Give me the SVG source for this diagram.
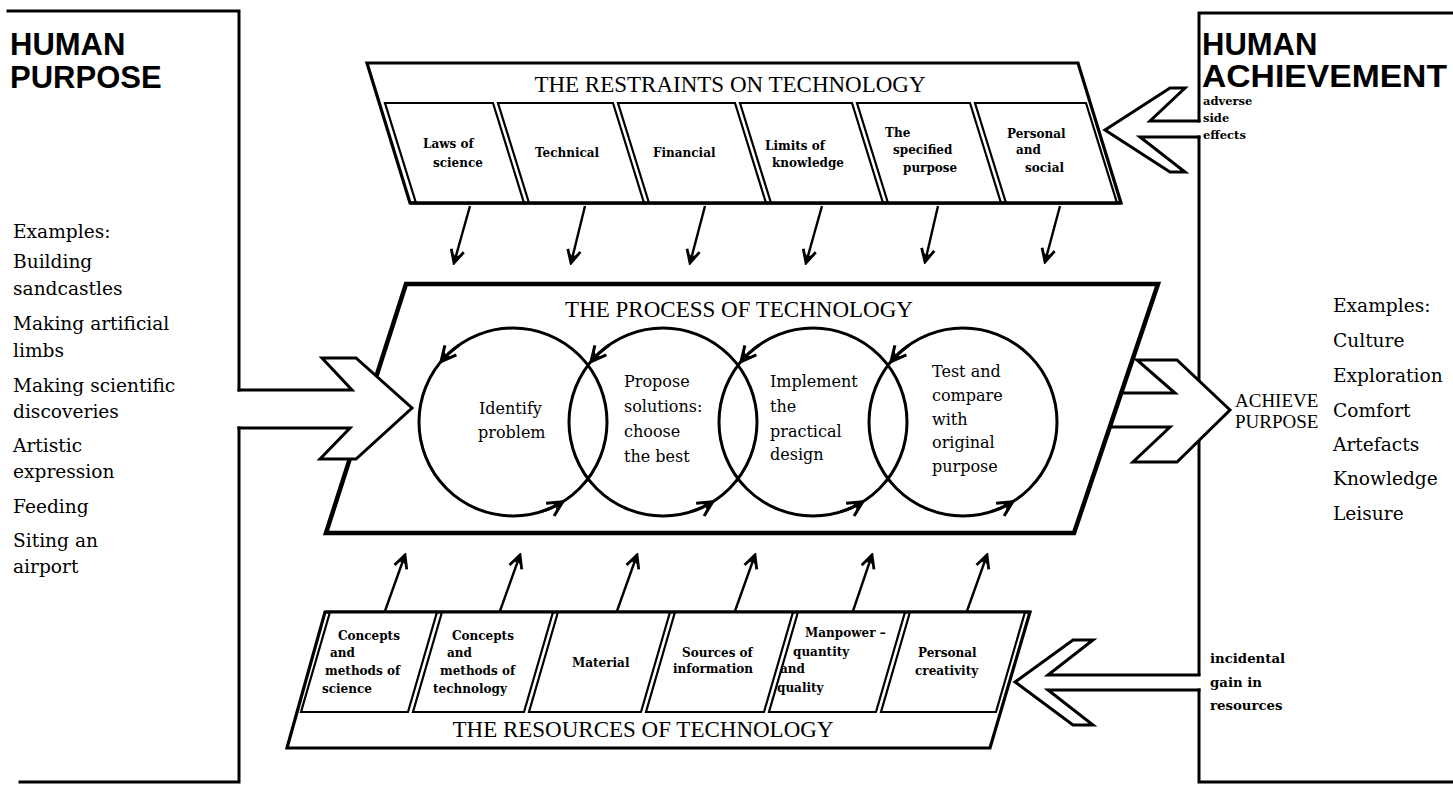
<svg xmlns="http://www.w3.org/2000/svg" width="1453" height="785" viewBox="0 0 1453 785">
  <defs>
    <marker id="head" viewBox="-18 -10 20 20" markerWidth="20" markerHeight="20" refX="0" refY="0" orient="auto" markerUnits="userSpaceOnUse">
      <path d="M-13,-6.5 L0,0 L-13,6.5" fill="none" stroke="#000" stroke-width="2.8" stroke-linejoin="miter"/>
      <path d="M0,0 L-9,-3.5 L-7,0 L-9,3.5 Z" fill="#000"/>
    </marker>
    <marker id="barb" viewBox="-20 -11 22 22" markerWidth="22" markerHeight="22" refX="0" refY="0" orient="auto" markerUnits="userSpaceOnUse">
      <path d="M-15,-7.5 L0,0 L-15,7.5" fill="none" stroke="#000" stroke-width="3" stroke-linejoin="miter"/>
      <path d="M0,0 L-10,-4 L-8,0 L-10,4 Z" fill="#000"/>
    </marker>
    <style>
      .ln{fill:none;stroke:#000;stroke-width:3;stroke-linejoin:miter;stroke-linecap:square}
      .frame{fill:#fff;stroke:#000;stroke-width:3.2;stroke-linejoin:miter}
      .proc{fill:#fff;stroke:#000;stroke-width:4.5;stroke-linejoin:miter}
      .cell{fill:#fff;stroke:#000;stroke-width:2.2;stroke-linejoin:miter}
      .ring{fill:none;stroke:#000;stroke-width:3}
      .cyc{fill:none;stroke:#000;stroke-width:3;marker-end:url(#barb)}
      .arr{fill:none;stroke:#000;stroke-width:2.4;marker-end:url(#head)}
      .cover{fill:#fff;stroke:none}
      text{fill:#000}
      .title{font-family:"Liberation Serif","Times New Roman",serif;font-size:23px}
      .lbl{font-family:"DejaVu Serif",serif;font-weight:bold;font-size:12px}
      .body{font-family:"DejaVu Serif",serif;font-size:16px}
      .list{font-family:"DejaVu Serif",serif;font-size:18.6px}
      .big{font-family:"Liberation Sans",Arial,sans-serif;font-weight:bold;font-size:31px}
      .note{font-family:"DejaVu Serif",serif;font-weight:bold;font-size:11.5px}
      .note2{font-family:"DejaVu Serif",serif;font-weight:bold;font-size:13.3px}
      .goal{font-family:"Liberation Serif","Times New Roman",serif;font-size:19px}
    </style>
  </defs>

  <rect width="1453" height="785" fill="#fff"/>

  <!-- left panel: human purpose -->
  <g id="human-purpose">
    <path class="ln" d="M8,11 H239 V390 M239,428 V782 H20"/>
    <text class="big" x="10" y="55">HUMAN</text>
    <text class="big" x="10" y="88">PURPOSE</text>
    <text class="list" x="13" y="238">Examples:</text>
    <text class="list" x="13" y="268">Building</text>
    <text class="list" x="13" y="295">sandcastles</text>
    <text class="list" x="13" y="330">Making artificial</text>
    <text class="list" x="13" y="357">limbs</text>
    <text class="list" x="13" y="392">Making scientific</text>
    <text class="list" x="13" y="418">discoveries</text>
    <text class="list" x="13" y="452">Artistic</text>
    <text class="list" x="13" y="478">expression</text>
    <text class="list" x="13" y="513">Feeding</text>
    <text class="list" x="13" y="547">Siting an</text>
    <text class="list" x="13" y="573">airport</text>
  </g>

  <!-- right panel: human achievement -->
  <g id="human-achievement">
    <path class="ln" d="M1453,13 H1199 V121 M1199,137 V674 M1199,690 V782 H1453"/>
    <text class="big" x="1202" y="55">HUMAN</text>
    <text class="big" x="1202" y="87" textLength="245" lengthAdjust="spacingAndGlyphs">ACHIEVEMENT</text>
    <text class="note" x="1203" y="105">adverse</text>
    <text class="note" x="1203" y="122">side</text>
    <text class="note" x="1203" y="139">effects</text>
    <text class="list" x="1333" y="312">Examples:</text>
    <text class="list" x="1333" y="347">Culture</text>
    <text class="list" x="1333" y="382">Exploration</text>
    <text class="list" x="1333" y="417">Comfort</text>
    <text class="list" x="1333" y="451">Artefacts</text>
    <text class="list" x="1333" y="485">Knowledge</text>
    <text class="list" x="1333" y="520">Leisure</text>
    <text class="note2" x="1210" y="663">incidental</text>
    <text class="note2" x="1210" y="687">gain in</text>
    <text class="note2" x="1210" y="710">resources</text>
  </g>

  <!-- restraints panel -->
  <g id="restraints">
    <polygon class="frame" points="367,63 1078,63 1121,203 410,203"/>
    <text class="title" x="730" y="92" text-anchor="middle">THE RESTRAINTS ON TECHNOLOGY</text>
    <polygon class="cell" points="385,103 493,103 524,203 416,203"/>
    <polygon class="cell" points="498,103 613,103 644,203 529,203"/>
    <polygon class="cell" points="618,103 735,103 766,203 649,203"/>
    <polygon class="cell" points="740,103 852,103 883,203 771,203"/>
    <polygon class="cell" points="857,103 970,103 1001,203 888,203"/>
    <polygon class="cell" points="975,103 1086,103 1117,203 1006,203"/>
    <line x1="410" y1="203" x2="1121" y2="203" stroke="#000" stroke-width="3.5"/>
    <text class="lbl" x="423" y="148">Laws of</text>
    <text class="lbl" x="433" y="167">science</text>
    <text class="lbl" x="535" y="157">Technical</text>
    <text class="lbl" x="653" y="157">Financial</text>
    <text class="lbl" x="765" y="150">Limits of</text>
    <text class="lbl" x="772" y="167">knowledge</text>
    <text class="lbl" x="885" y="137">The</text>
    <text class="lbl" x="893" y="154">specified</text>
    <text class="lbl" x="903" y="172">purpose</text>
    <text class="lbl" x="1007" y="138">Personal</text>
    <text class="lbl" x="1016" y="154">and</text>
    <text class="lbl" x="1025" y="172">social</text>
  </g>

  <!-- the process with its four overlapping stages -->
  <g id="process">
    <polygon class="proc" points="406,284 1158,284 1074,533 326,533"/>
    <text class="title" x="739" y="317" text-anchor="middle">THE PROCESS OF TECHNOLOGY</text>
    <circle class="ring" cx="513" cy="422" r="94"/>
    <circle class="ring" cx="663" cy="422" r="94"/>
    <circle class="ring" cx="813" cy="422" r="94"/>
    <circle class="ring" cx="963" cy="422" r="94"/>
    <!-- direction of travel round each stage -->
    <path class="cyc" d="M459.1,345 A94,94 0 0 0 441,361.6"/>
    <path class="cyc" d="M540.5,511.9 A94,94 0 0 0 562.8,501.7"/>
    <path class="cyc" d="M609.1,345 A94,94 0 0 0 591,361.6"/>
    <path class="cyc" d="M690.5,511.9 A94,94 0 0 0 712.8,501.7"/>
    <path class="cyc" d="M759.1,345 A94,94 0 0 0 741,361.6"/>
    <path class="cyc" d="M840.5,511.9 A94,94 0 0 0 862.8,501.7"/>
    <path class="cyc" d="M909.1,345 A94,94 0 0 0 891,361.6"/>
    <path class="cyc" d="M990.5,511.9 A94,94 0 0 0 1012.8,501.7"/>
    <text class="body" x="479" y="414">Identify</text>
    <text class="body" x="478" y="438">problem</text>
    <text class="body" x="624" y="387">Propose</text>
    <text class="body" x="624" y="412">solutions:</text>
    <text class="body" x="624" y="437">choose</text>
    <text class="body" x="624" y="462">the best</text>
    <text class="body" x="770" y="387">Implement</text>
    <text class="body" x="770" y="412">the</text>
    <text class="body" x="770" y="437">practical</text>
    <text class="body" x="770" y="460">design</text>
    <text class="body" x="932" y="377">Test and</text>
    <text class="body" x="932" y="401">compare</text>
    <text class="body" x="932" y="425">with</text>
    <text class="body" x="932" y="448">original</text>
    <text class="body" x="932" y="472">purpose</text>
  </g>

  <!-- resources panel -->
  <g id="resources">
    <polygon class="frame" points="325,612 1030,612 990,748 287,748"/>
    <polygon class="cell" points="330,612 437,612 408,712 301,712"/>
    <polygon class="cell" points="442,612 553,612 524,712 413,712"/>
    <polygon class="cell" points="558,612 670,612 641,712 529,712"/>
    <polygon class="cell" points="675,612 793,612 764,712 646,712"/>
    <polygon class="cell" points="798,612 905,612 876,712 769,712"/>
    <polygon class="cell" points="910,612 1025,612 996,712 881,712"/>
    <line x1="325" y1="612" x2="1030" y2="612" stroke="#000" stroke-width="3.2"/>
    <text class="title" x="643" y="737" text-anchor="middle">THE RESOURCES OF TECHNOLOGY</text>
    <text class="lbl" x="338" y="640">Concepts</text>
    <text class="lbl" x="330" y="657">and</text>
    <text class="lbl" x="325" y="675">methods of</text>
    <text class="lbl" x="322" y="693">science</text>
    <text class="lbl" x="452" y="640">Concepts</text>
    <text class="lbl" x="447" y="657">and</text>
    <text class="lbl" x="440" y="675">methods of</text>
    <text class="lbl" x="433" y="693">technology</text>
    <text class="lbl" x="572" y="667">Material</text>
    <text class="lbl" x="682" y="657">Sources of</text>
    <text class="lbl" x="673" y="673">information</text>
    <text class="lbl" x="805" y="637">Manpower –</text>
    <text class="lbl" x="793" y="656">quantity</text>
    <text class="lbl" x="780" y="673">and</text>
    <text class="lbl" x="777" y="692">quality</text>
    <text class="lbl" x="918" y="657">Personal</text>
    <text class="lbl" x="915" y="675">creativity</text>
  </g>

  <!-- connectors: inflow/outflow chevrons and influence arrows -->
  <g id="connectors">
    <!-- purpose into the process -->
    <polygon class="cover" points="352,390 322,358 356,358 412,408 356,459 320,459 350,428"/>
    <path class="ln" d="M239,390 H352 L322,358 H356 L412,408 L356,459 H320 L350,428 H239"/>
    <!-- process out to achievement -->
    <polygon class="cover" points="1175,393 1137,360 1177,360 1230,410 1177,462 1133,462 1170,427"/>
    <path class="ln" d="M1121,393 H1175 L1137,360 H1177 L1230,410 L1177,462 H1133 L1170,427 H1110"/>
    <text class="goal" x="1235" y="407">ACHIEVE</text>
    <text class="goal" x="1235" y="428">PURPOSE</text>
    <!-- feedback: adverse side effects -->
    <path class="ln" d="M1199,121 H1150 L1185,88 H1170 L1105,130 L1170,172 H1185 L1140,137 H1199"/>
    <!-- feedback: incidental gain in resources -->
    <path class="ln" d="M1199,675 H1048 L1093,640 H1073 L1015,682 L1073,725 H1093 L1048,690 H1199"/>
    <!-- restraints acting on the process -->
    <line class="arr" x1="470" y1="206" x2="454" y2="263"/>
    <line class="arr" x1="585" y1="206" x2="571" y2="263"/>
    <line class="arr" x1="705" y1="206" x2="690" y2="263"/>
    <line class="arr" x1="822" y1="206" x2="806" y2="263"/>
    <line class="arr" x1="938" y1="206" x2="925" y2="262"/>
    <line class="arr" x1="1060" y1="206" x2="1045" y2="262"/>
    <!-- resources feeding the process -->
    <line class="arr" x1="385" y1="611" x2="405" y2="555"/>
    <line class="arr" x1="500" y1="611" x2="520" y2="555"/>
    <line class="arr" x1="617" y1="611" x2="637" y2="555"/>
    <line class="arr" x1="735" y1="611" x2="755" y2="555"/>
    <line class="arr" x1="853" y1="611" x2="872" y2="555"/>
    <line class="arr" x1="967" y1="611" x2="987" y2="555"/>
  </g>
</svg>
